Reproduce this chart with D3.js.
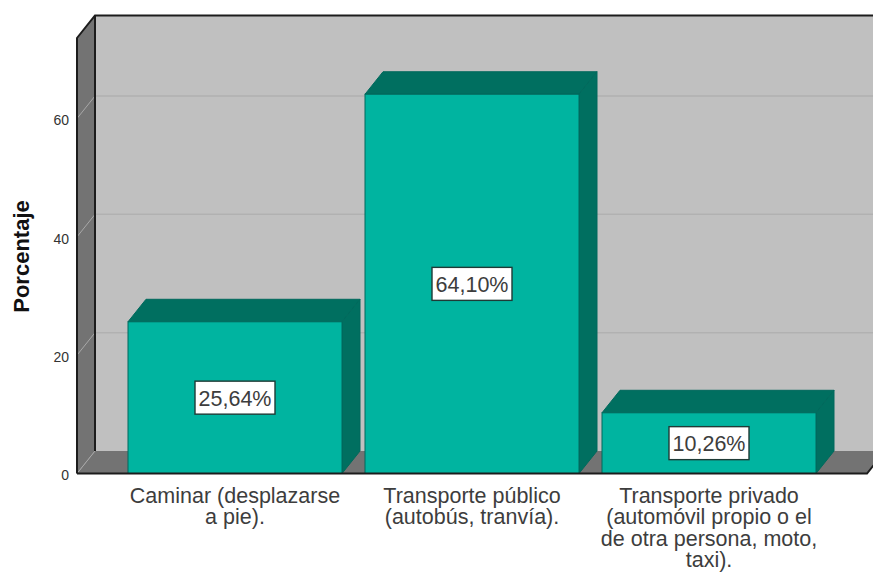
<!DOCTYPE html>
<html>
<head>
<meta charset="utf-8">
<script src="https://cdn.jsdelivr.net/npm/d3@7"></script>
<style>
  html, body { margin: 0; padding: 0; background: #fff; }
  text { font-family: "Liberation Sans", Arial, sans-serif; }
</style>
</head>
<body>
<div id="chart"></div>
<script>
const categories = ["Caminar (desplazarse a pie).", "Transporte público (autobús, tranvía).", "Transporte privado (automóvil propio o el de otra persona, moto, taxi)."];
const categoryLines = [
  ["Caminar (desplazarse", "a pie)."],
  ["Transporte público", "(autobús, tranvía)."],
  ["Transporte privado", "(automóvil propio o el", "de otra persona, moto,", "taxi)."]
];
const percentages = [25.64, 64.10, 10.26];
const percentLabels = ["25,64%", "64,10%", "10,26%"];
const yTicks = [0, 20, 40, 60];
const yTitle = "Porcentaje";

const width = 873;
const height = 572;
const depthX = 18;
const depthY = -22.5;
const plotLeft = 77;
const plotRight = 867;
const plotTop = 38;
const plotBottom = 473.5;

const svg = d3.select("#chart")
  .append("svg")
  .attr("width", width)
  .attr("height", height)
  .style("display", "block");

const y = d3.scaleLinear()
  .domain([0, 60])
  .range([plotBottom, 118.5]);

const x = d3.scaleBand()
  .domain(categories)
  .range([116.5, 827.5])
  .paddingInner(23 / 237)
  .paddingOuter(11.5 / 237);

function poly(points) {
  return points.map(p => p.join(",")).join(" ");
}

// back wall
svg.append("polygon")
  .attr("points", poly([
    [plotLeft + depthX, plotTop + depthY],
    [width + 20, plotTop + depthY],
    [width + 20, plotBottom + depthY],
    [plotLeft + depthX, plotBottom + depthY]
  ]))
  .attr("fill", "#c0c0c0");

// side wall
svg.append("polygon")
  .attr("points", poly([
    [plotLeft, plotTop],
    [plotLeft + depthX, plotTop + depthY],
    [plotLeft + depthX, plotBottom + depthY],
    [plotLeft, plotBottom]
  ]))
  .attr("fill", "#737373");

// floor
svg.append("polygon")
  .attr("points", poly([
    [plotLeft, plotBottom],
    [plotLeft + depthX, plotBottom + depthY],
    [plotRight + depthX, plotBottom + depthY],
    [plotRight, plotBottom]
  ]))
  .attr("fill", "#737373");

// gridlines, wrapped around the side wall
const grid = svg.append("g");
grid.selectAll(".grid-back")
  .data(yTicks.filter(d => d > 0))
  .join("line")
  .attr("class", "grid-back")
  .attr("x1", plotLeft + depthX)
  .attr("x2", width)
  .attr("y1", d => y(d) + depthY)
  .attr("y2", d => y(d) + depthY)
  .attr("stroke", "#b1b1b1")
  .attr("stroke-width", 1.5);

grid.selectAll(".grid-side")
  .data(yTicks)
  .join("line")
  .attr("class", "grid-side")
  .attr("x1", plotLeft)
  .attr("x2", plotLeft + depthX)
  .attr("y1", d => y(d))
  .attr("y2", d => y(d) + depthY)
  .attr("stroke", "#a8a8a8")
  .attr("stroke-width", 1);

// wall edges
const edge = svg.append("g")
  .attr("fill", "none")
  .attr("stroke", "#1c1c1c")
  .attr("stroke-width", 2);

edge.append("polyline")
  .attr("points", poly([
    [plotLeft, plotBottom],
    [plotLeft, plotTop],
    [plotLeft + depthX, plotTop + depthY],
    [width + 20, plotTop + depthY]
  ]));
edge.append("line")
  .attr("x1", plotLeft + depthX)
  .attr("x2", plotLeft + depthX)
  .attr("y1", plotTop + depthY)
  .attr("y2", plotBottom + depthY);

// bars
const bars = svg.selectAll(".bar")
  .data(percentages)
  .join("g")
  .attr("class", "bar")
  .attr("stroke", "#00695c")
  .attr("stroke-width", 1);

bars.append("polygon")
  .attr("points", (d, i) => {
    const x0 = x(categories[i]);
    const x1 = x0 + x.bandwidth();
    return poly([
      [x0, y(d)],
      [x0 + depthX, y(d) + depthY],
      [x1 + depthX, y(d) + depthY],
      [x1, y(d)]
    ]);
  })
  .attr("fill", "#006f60");

bars.append("polygon")
  .attr("points", (d, i) => {
    const x1 = x(categories[i]) + x.bandwidth();
    return poly([
      [x1, y(d)],
      [x1 + depthX, y(d) + depthY],
      [x1 + depthX, y(0) + depthY],
      [x1, y(0)]
    ]);
  })
  .attr("fill", "#006f60");

bars.append("rect")
  .attr("x", (d, i) => x(categories[i]))
  .attr("y", d => y(d))
  .attr("width", x.bandwidth())
  .attr("height", d => y(0) - y(d))
  .attr("fill", "#00b4a0");

// floor front edge
svg.append("polyline")
  .attr("points", poly([
    [plotLeft, plotBottom],
    [plotRight, plotBottom],
    [plotRight + depthX, plotBottom + depthY]
  ]))
  .attr("fill", "none")
  .attr("stroke", "#1c1c1c")
  .attr("stroke-width", 2);

// y axis, labels only
const yAxis = svg.append("g")
  .attr("transform", `translate(${plotLeft},0)`)
  .call(d3.axisLeft(y).tickValues(yTicks).tickFormat(d3.format("d")).tickSize(0).tickPadding(8));
yAxis.select(".domain").remove();
yAxis.selectAll("text")
  .attr("font-family", "Liberation Sans, Arial, sans-serif")
  .attr("font-size", 14)
  .attr("dy", "0.46em")
  .attr("fill", "#333");

svg.append("text")
  .attr("transform", "translate(29,256.5) rotate(-90)")
  .attr("text-anchor", "middle")
  .attr("font-size", 22)
  .attr("font-weight", "bold")
  .attr("fill", "#111")
  .text(yTitle);

// value labels
const labels = svg.selectAll(".value-label")
  .data(percentages)
  .join("g")
  .attr("class", "value-label")
  .attr("transform", (d, i) => `translate(${x(categories[i]) + x.bandwidth() / 2},${(y(d) + y(0)) / 2})`);

labels.append("rect")
  .attr("x", -40)
  .attr("y", -16.5)
  .attr("width", 80)
  .attr("height", 33)
  .attr("fill", "#fff")
  .attr("stroke", "#1f3a36")
  .attr("stroke-width", 1.4);

labels.append("text")
  .attr("text-anchor", "middle")
  .attr("y", 8)
  .attr("font-size", 21.5)
  .attr("fill", "#3d3d3d")
  .text((d, i) => percentLabels[i]);

// category labels
const catLabels = svg.selectAll(".cat-label")
  .data(categoryLines)
  .join("text")
  .attr("class", "cat-label")
  .attr("text-anchor", "middle")
  .attr("font-size", 21.5)
  .attr("fill", "#3d3d3d");

catLabels.selectAll("tspan")
  .data((d, i) => d.map(line => ({ line, i })))
  .join("tspan")
  .attr("x", d => x(categories[d.i]) + x.bandwidth() / 2)
  .attr("y", (d, j) => 502.5 + j * 21.5)
  .text(d => d.line);
</script>
</body>
</html>
